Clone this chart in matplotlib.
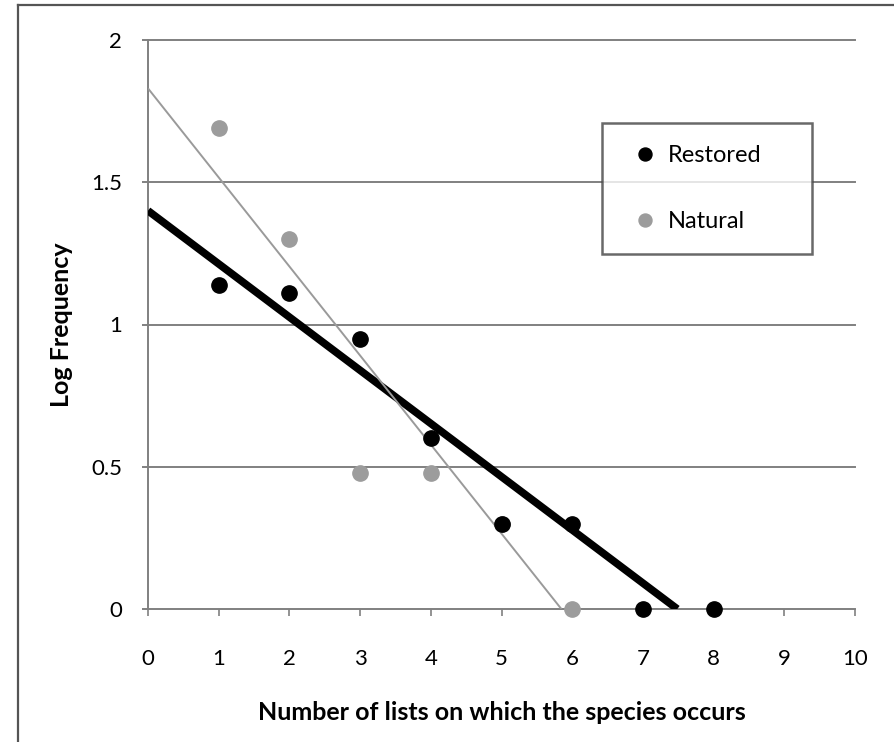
import matplotlib
matplotlib.use("Agg")
import matplotlib.pyplot as plt
from matplotlib.lines import Line2D
import numpy as np

# ---- data ----
x_restored = [1, 2, 3, 4, 5, 6, 7, 8]
y_restored = [1.14, 1.11, 0.95, 0.60, 0.30, 0.30, 0.0, 0.0]
x_natural = [1, 2, 3, 4, 5, 6]
y_natural = [1.69, 1.30, 0.477, 0.477, 0.30, 0.0]
# linear trendlines (intercept, slope)
trend_restored = [1.40, -0.187]
trend_natural = [1.83, -0.313]
series_labels = ["Restored", "Natural"]
x_ticks = list(range(0, 11))
y_ticks = [0, 0.5, 1, 1.5, 2]
y_tick_labels = ["0", "0.5", "1", "1.5", "2"]

plt.rcParams['font.family'] = ['Lato', 'DejaVu Sans']

W, H = 894, 742
fig = plt.figure(figsize=(W / 100, H / 100), dpi=100)
ax = fig.add_axes([148 / W, 1 - 609 / H, (855 - 148) / W, (609 - 40) / H])

grid_col = '#808080'
ax.set_xlim(0, 10)
ax.set_ylim(0, 2)
for yv in y_ticks[1:]:
    ax.axhline(yv, color=grid_col, lw=1.4, zorder=1, clip_on=False)

# trendlines
for (b, m), col, lw in [(trend_restored, 'black', 5.5), (trend_natural, '#9a9a9a', 1.4)]:
    x_end = -b / m
    xs = np.array([0, x_end])
    ax.plot(xs, b + m * xs, color=col, lw=lw, zorder=3, solid_capstyle='butt')

ax.plot(x_restored, y_restored, 'o', color='black', ms=11, zorder=5,
        label=series_labels[0], clip_on=False)
ax.plot(x_natural, y_natural, 'o', color='#9c9c9c', ms=11, zorder=4,
        label=series_labels[1], clip_on=False)

ax.set_xticks(x_ticks)
ax.set_yticks(y_ticks)
ax.set_yticklabels(y_tick_labels)
for s in ['top', 'right']:
    ax.spines[s].set_visible(False)
for s in ['left', 'bottom']:
    ax.spines[s].set_color(grid_col)
    ax.spines[s].set_linewidth(1.4)
ax.tick_params(axis='x', direction='out', length=5, width=1.2, color=grid_col,
               labelsize=16, pad=24)
ax.tick_params(axis='y', direction='out', length=4.5, width=1.4, color=grid_col,
               labelsize=16, pad=14)

ax.set_xlabel("Number of lists on which the species occurs", fontsize=18,
              fontweight='bold', labelpad=23)
ax.set_ylabel("Log Frequency", fontsize=18, fontweight='bold', labelpad=13)

leg = ax.legend(loc='upper left',
                bbox_to_anchor=(602 / W, 1 - 123 / H - 0.01, 210 / W, 0.01),
                bbox_transform=fig.transFigure, mode='expand', ncol=1,
                fontsize=17, frameon=True, fancybox=False, borderpad=0.95,
                labelspacing=1.88, handlelength=1.7, handletextpad=0.15,
                borderaxespad=0, markerscale=0.85)
leg.get_frame().set_edgecolor('#444444')
leg.get_frame().set_linewidth(1.8)

# outer chart border (left and top visible)
fig.add_artist(Line2D([18 / W, 18 / W], [0, 1 - 5 / H], transform=fig.transFigure,
                      color='#555555', lw=1.6))
fig.add_artist(Line2D([18 / W, 1], [1 - 5 / H, 1 - 5 / H], transform=fig.transFigure,
                      color='#555555', lw=1.6))

fig.savefig("out.png", dpi=100)
